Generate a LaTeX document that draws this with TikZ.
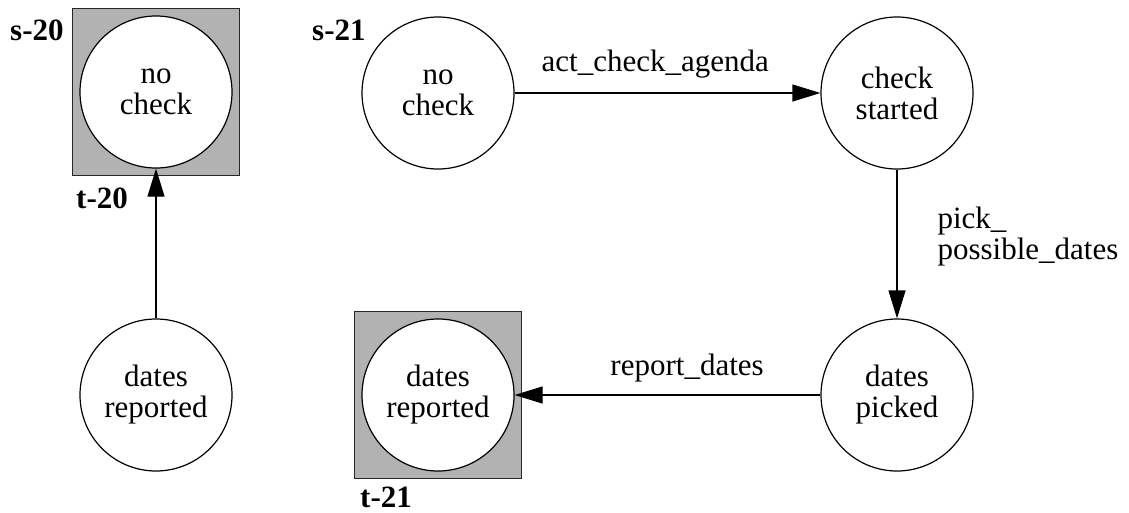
\documentclass[tikz,border=0pt]{standalone}
\usepackage{fontspec}
\setmainfont{Liberation Serif}
\usetikzlibrary{arrows.meta}
\tikzset{
  state/.style={circle, draw=black, line width=1.2pt, fill=white, minimum size=152pt, inner sep=0pt, align=center, font=\fontsize{31}{31}\selectfont},
  finalbox/.style={rectangle, draw=black!85, line width=1.3pt, fill=black!30, minimum size=167pt, inner sep=0pt},
  tag/.style={font=\fontsize{31}{31}\selectfont\bfseries, inner sep=0pt, anchor=base west},
  elabel/.style={font=\fontsize{31}{31}\selectfont, inner sep=0pt},
  arr/.style={line width=1.2pt, -{Triangle[length=28pt, width=17pt]}}
}
\begin{document}
\begin{tikzpicture}[x=1pt, y=-1pt]
\useasboundingbox (0,0) rectangle (1129,512);
% left component
\node[finalbox] (b20) at (156,92) {};
\node[state] (s20) at (156,92) {no\\check};
\node[state] (r20) at (156,395) {dates\\reported};
\node[tag] (l20s) at (10,40) {s-20};
\node[tag] (l20t) at (76,208) {t-20};
\draw[arr] (r20) -- (s20);
% right component
\node[state] (s21) at (438,93) {no\\check};
\node[state] (c21) at (897,93) {check\\started};
\node[state] (p21) at (897,395) {dates\\picked};
\node[finalbox] (b21) at (438,395) {};
\node[state] (r21) at (438,395) {dates\\reported};
\node[tag] (l21s) at (312,40) {s-21};
\node[tag] (l21t) at (360,507) {t-21};
\draw[arr] (s21) -- node[elabel, pos=0.46, anchor=base, yshift=22pt] {act\_check\_agenda} (c21);
\draw[arr] (c21) -- node[elabel, pos=0.453, anchor=west, xshift=40pt, align=left] {pick\_\\possible\_dates} (p21);
\draw[arr] (p21) -- node[elabel, pos=0.436, anchor=base, yshift=20pt] {report\_dates} (r21);
\end{tikzpicture}
\end{document}
